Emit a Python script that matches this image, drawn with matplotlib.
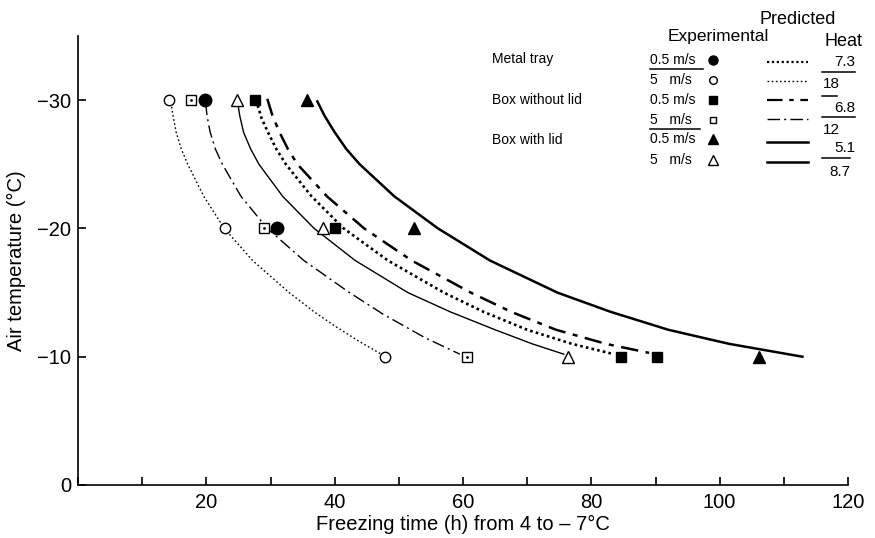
import matplotlib
matplotlib.use("Agg")
import matplotlib.pyplot as plt
from matplotlib.lines import Line2D

plt.rcParams['font.family'] = ['Liberation Sans', 'DejaVu Sans']

# ---------------- data ----------------
# Experimental points (freezing time h, air temperature C)
metal_05_x = [19.8, 31.0]
metal_05_y = [-30, -20]
metal_5_x = [14.2, 22.9, 47.8]
metal_5_y = [-30, -20, -10]
boxnolid_05_x = [27.6, 40.0, 84.7, 90.2]
boxnolid_05_y = [-30, -20, -10, -10]
boxnolid_5_x = [17.6, 29.0, 60.7]
boxnolid_5_y = [-30, -20, -10]
boxlid_05_x = [35.7, 52.3, 106.2]
boxlid_05_y = [-30, -20, -10]
boxlid_5_x = [24.8, 38.2, 76.3]
boxlid_5_y = [-30, -20, -10]

# Predicted curves
pred_18_y = [-29.8, -28.8, -27.5, -26.2, -25.0, -22.5, -20.0, -17.5, -15.0, -13.5, -12.5, -11.2, -10.1]
pred_18_x = [14.5, 14.8, 15.3, 16.1, 17.1, 19.6, 22.8, 27.2, 32.9, 36.8, 39.7, 43.8, 47.6]
pred_12_y = [-29.8, -28.8, -27.5, -26.2, -25.0, -22.5, -20.0, -17.5, -15.0, -13.3, -11.5, -10.2]
pred_12_x = [19.9, 20.1, 20.6, 21.4, 22.5, 25.4, 29.5, 35.2, 42.3, 47.6, 54.0, 59.5]
pred_87_y = [-29.8, -28.8, -27.5, -26.2, -25.0, -22.5, -20.0, -17.5, -15.0, -13.5, -12.1, -11.0, -10.2]
pred_87_x = [24.9, 25.2, 25.8, 26.9, 28.2, 31.9, 36.8, 43.2, 51.4, 58.0, 65.0, 70.8, 75.7]
pred_73_y = [-29.6, -28.6, -27.5, -26.2, -25.0, -22.5, -20.0, -17.5, -15.0, -13.5, -12.1, -11.0, -10.2]
pred_73_x = [28.0, 28.6, 29.6, 30.9, 32.4, 36.4, 41.4, 48.3, 57.0, 63.2, 70.0, 77.0, 83.5]
pred_68_y = [-30.1, -28.8, -27.5, -26.2, -25.0, -22.5, -20.0, -17.5, -15.0, -13.5, -12.1, -11.0, -10.3]
pred_68_x = [29.5, 30.3, 31.4, 32.7, 34.2, 38.8, 44.6, 52.0, 61.2, 67.5, 74.5, 82.3, 89.0]
pred_51_y = [-29.9, -28.8, -27.5, -26.2, -25.0, -22.5, -20.0, -17.5, -15.0, -13.5, -12.1, -11.0, -10.0]
pred_51_x = [37.3, 38.4, 40.0, 41.8, 43.9, 49.3, 56.1, 64.2, 74.7, 83.0, 92.0, 101.5, 112.9]

x_ticks = [0, 10, 20, 30, 40, 50, 60, 70, 80, 90, 100, 110, 120]
x_tick_labels = ['', '', '20', '', '40', '', '60', '', '80', '', '100', '', '120']
y_ticks = [-30, -20, -10, 0]
y_tick_labels = ['\u221230', '\u221220', '\u221210', '0']

# ---------------- figure ----------------
W, H = 875, 538
fig = plt.figure(figsize=(W / 100, H / 100), dpi=100)
ax = fig.add_axes([78 / W, 1 - 485 / H, (848 - 78) / W, (485 - 36) / H])

thin_dot = (0, (1.2, 1.8))
thick_dot = (0, (1.0, 1.2))
thin_dd = (0, (9, 3, 1.5, 3))
thick_dd = (0, (7, 3, 2, 3))

curves = [
    (pred_18_x, pred_18_y, thin_dot, 1.0),
    (pred_12_x, pred_12_y, thin_dd, 1.0),
    (pred_87_x, pred_87_y, '-', 1.0),
    (pred_73_x, pred_73_y, thick_dot, 1.9),
    (pred_68_x, pred_68_y, thick_dd, 1.8),
    (pred_51_x, pred_51_y, '-', 1.8),
]
for cx, cy, ls, lw in curves:
    ax.plot(cx, cy, color='black', linestyle=ls, linewidth=lw, zorder=2,
            solid_joinstyle='round')

mk = dict(color='black', linestyle='none', zorder=3)
ax.plot(metal_05_x, metal_05_y, marker='o', markersize=9, markerfacecolor='black', **mk)
ax.plot(metal_5_x, metal_5_y, marker='o', markersize=7.5, markerfacecolor='white', markeredgewidth=1.0, **mk)
ax.plot(boxnolid_05_x, boxnolid_05_y, marker='s', markersize=7.5, markerfacecolor='black', **mk)
ax.plot(boxnolid_5_x, boxnolid_5_y, marker='s', markersize=6.5, markerfacecolor='white', markeredgewidth=1.0, **mk)
ax.plot(boxnolid_5_x, boxnolid_5_y, marker='.', markersize=2, **mk)
ax.plot(boxlid_05_x, boxlid_05_y, marker='^', markersize=9, markerfacecolor='black', **mk)
ax.plot(boxlid_5_x, boxlid_5_y, marker='^', markersize=9, markerfacecolor='white', markeredgewidth=1.0, **mk)

ax.set_xlim(0, 120)
ax.set_ylim(0, -35)
ax.spines['top'].set_visible(False)
ax.spines['right'].set_visible(False)
for s in ('left', 'bottom'):
    ax.spines[s].set_linewidth(1.2)
ax.set_xticks(x_ticks)
ax.set_xticklabels(x_tick_labels)
ax.set_yticks(y_ticks)
ax.set_yticklabels(y_tick_labels)
ax.tick_params(direction='in', length=6, width=1.2, labelsize=14.5, pad=6)
ax.tick_params(axis='y', pad=5)
ax.set_xlabel('Freezing time (h) from 4 to \u2013 7\u00b0C', fontsize=14.5, labelpad=2)
ax.set_ylabel('Air temperature (\u00b0C)', fontsize=14.5, labelpad=8)

# ---------------- custom legend (pixel positions) ----------------
def fx(x):
    return x / W

def fy(y):
    return 1 - y / H

def ftext(x, y, s, size, ha='left'):
    fig.text(fx(x), fy(y), s, fontsize=size, ha=ha, va='center')

def fline(x0, x1, y, lw=1.1, ls='-'):
    fig.add_artist(Line2D([fx(x0), fx(x1)], [fy(y), fy(y)], color='black',
                          linewidth=lw, linestyle=ls, transform=fig.transFigure))

def fmark(x, y, marker, ms, fc):
    fig.add_artist(Line2D([fx(x)], [fy(y)], marker=marker, markersize=ms,
                          markerfacecolor=fc, markeredgecolor='black',
                          markeredgewidth=1.0, linestyle='none',
                          transform=fig.transFigure))

ftext(798, 19, 'Predicted', 13, ha='center')
ftext(718, 37, 'Experimental', 12.5, ha='center')
ftext(843, 41, 'Heat', 13, ha='center')

ftext(492, 59, 'Metal tray', 10)
ftext(492, 100, 'Box without lid', 10)
ftext(492, 140, 'Box with lid', 10)

rows_y = [60, 80, 100, 120, 139, 160]
speeds = ['0.5 m/s', '5   m/s', '0.5 m/s', '5   m/s', '0.5 m/s', '5   m/s']
markers = [('o', 6.5, 'black'), ('o', 5.5, 'white'), ('s', 5.5, 'black'),
           ('s', 5, 'white'), ('^', 7, 'black'), ('^', 7, 'white')]
for yy, sp, (m, ms, fc) in zip(rows_y, speeds, markers):
    ftext(650, yy, sp, 10)
    fmark(713, yy, m, ms, fc)
fline(650, 703, 69)
fline(650, 700, 129)

sample_y = [62, 81, 100, 119, 142, 162]
sample_styles = [(thick_dot, 1.6), (thin_dot, 1.0), (thick_dd, 1.6),
                 (thin_dd, 1.0), ('-', 1.8), ('-', 1.8)]
for yy, (ls, lw) in zip(sample_y, sample_styles):
    fline(767, 808, yy, lw=lw, ls=ls)

ftext(855, 62, '7.3', 11, ha='right')
fline(822, 855, 72)
ftext(823, 84, '18', 11)
fline(822, 837, 96)
ftext(855, 108, '6.8', 11, ha='right')
fline(822, 855, 117)
ftext(823, 130, '12', 11)
ftext(855, 148, '5.1', 11, ha='right')
fline(822, 850, 158)
ftext(850, 172, '8.7', 11, ha='right')

fig.savefig('out.png', dpi=100)
